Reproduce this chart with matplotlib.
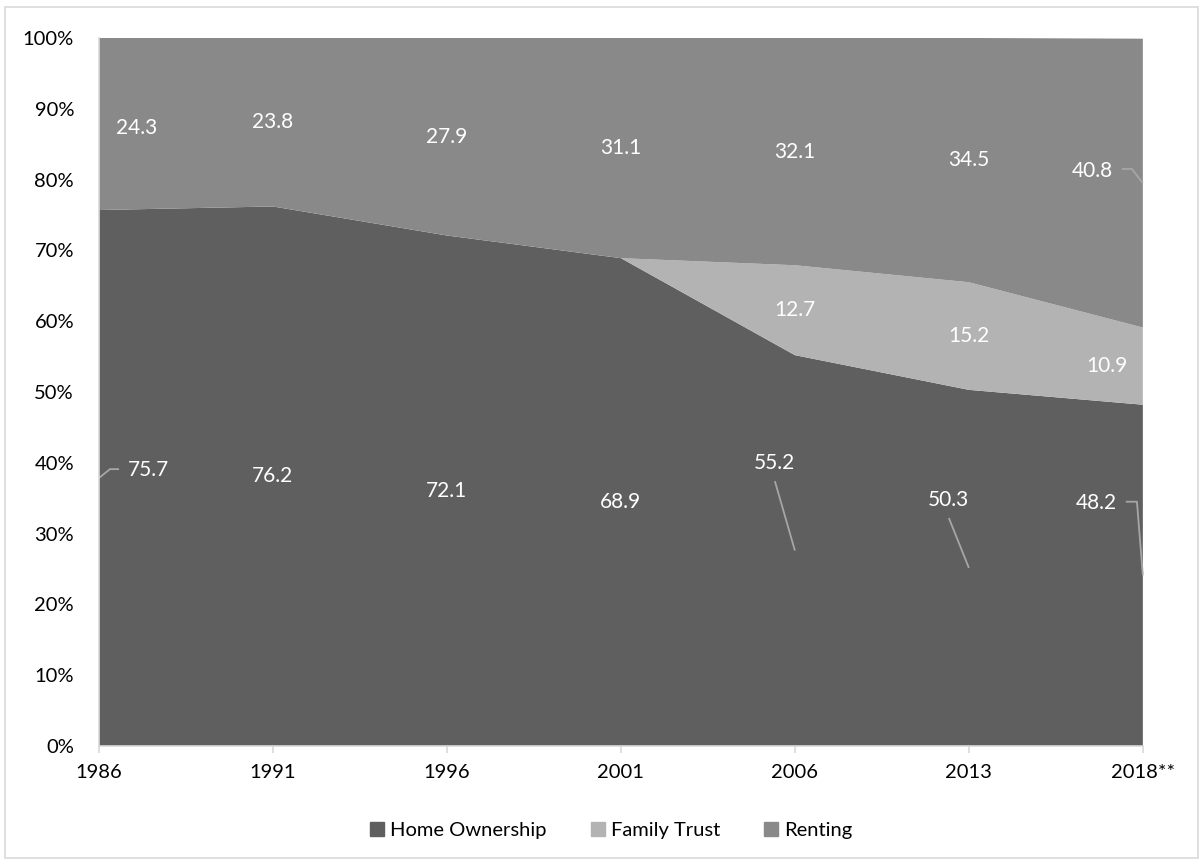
import numpy as np
import matplotlib.pyplot as plt
from matplotlib.patches import Patch, Rectangle
from matplotlib.ticker import FuncFormatter

plt.rcParams['font.family'] = ['Lato', 'DejaVu Sans']

# data (percent of households)
years = ['1986', '1991', '1996', '2001', '2006', '2013', '2018**']
home_ownership = [75.7, 76.2, 72.1, 68.9, 55.2, 50.3, 48.2]
family_trust = [0.0, 0.0, 0.0, 0.0, 12.7, 15.2, 10.9]
renting = [24.3, 23.8, 27.9, 31.1, 32.1, 34.5, 40.8]

col_home = '#5f5f5f'
col_trust = '#b3b3b3'
col_rent = '#898989'
col_axis = '#d9d9d9'
col_leader = '#a6a6a6'

fig = plt.figure(figsize=(12.03, 8.61), dpi=100)
ax = fig.add_axes([0.0823, 0.1336, 0.8677, 0.8223])

x = np.arange(len(years))
ax.stackplot(x, home_ownership, family_trust, renting,
             colors=[col_home, col_trust, col_rent], linewidth=0)

ax.set_xlim(0, len(years) - 1)
ax.set_ylim(0, 100)
ax.set_xticks(x)
ax.set_xticklabels(years)
ax.set_yticks(np.arange(0, 101, 10))
ax.yaxis.set_major_formatter(FuncFormatter(lambda v, p: '%d%%' % v))
ax.tick_params(axis='x', length=5, color=col_axis, width=1.2, labelsize=14.5, pad=8)
ax.tick_params(axis='y', length=0, labelsize=14.5, pad=18)
for s in ['top', 'right']:
    ax.spines[s].set_visible(False)
for s in ['left', 'bottom']:
    ax.spines[s].set_color(col_axis)
    ax.spines[s].set_linewidth(1.2)

#  Labels sit in the middle of each segment, except the ones Excel
#  pushed aside (those get a leader line back to the segment middle).
lbl = dict(color='white', fontsize=15, ha='center', va='center')
moved = {('home', 0): (0.287, 39.0), ('home', 4): (3.885, 40.0),
         ('home', 5): (4.885, 34.7), ('home', 6): (5.73, 34.3),
         ('rent', 0): (0.218, 87.3), ('rent', 6): (5.707, 81.2),
         ('trust', 6): (5.793, 53.7)}

bottom = np.zeros(len(years))
for key, vals in [('home', home_ownership), ('trust', family_trust), ('rent', renting)]:
    vals = np.asarray(vals)
    for i, v in enumerate(vals):
        if v > 0:
            pos = moved.get((key, i), (i, bottom[i] + v / 2))
            ax.text(pos[0], pos[1], '%.1f' % v, **lbl)
    bottom = bottom + vals

def leader(pts):
    xs, ys = zip(*pts)
    ax.plot(xs, ys, color=col_leader, lw=1.3, solid_capstyle='butt', clip_on=False)

mid_home = [v / 2 for v in home_ownership]
mid_rent = [h + t + r / 2 for h, t, r in zip(home_ownership, family_trust, renting)]

leader([(0, mid_home[0]), (0.063, 39.1), (0.115, 39.1)])
leader([(4, mid_home[4]), (3.885, 37.4)])
leader([(5, mid_home[5]), (4.885, 32.2)])
leader([(6, mid_home[6]), (5.966, 34.5), (5.902, 34.5)])
leader([(6, mid_rent[6]), (5.937, 81.5), (5.879, 81.5)])

handles = [Patch(color=col_home, label='Home Ownership'),
           Patch(color=col_trust, label='Family Trust'),
           Patch(color=col_rent, label='Renting')]
fig.legend(handles=handles, loc='center', bbox_to_anchor=(0.508, 0.035), ncol=3,
           frameon=False, fontsize=14.5, handlelength=0.7, handleheight=0.7,
           handletextpad=0.3, columnspacing=2.2)

fig.patches.append(Rectangle((0.004, 0.004), 0.992, 0.988, transform=fig.transFigure,
                             fill=False, edgecolor=col_axis, lw=1.2))

fig.savefig('out.png', dpi=100)
